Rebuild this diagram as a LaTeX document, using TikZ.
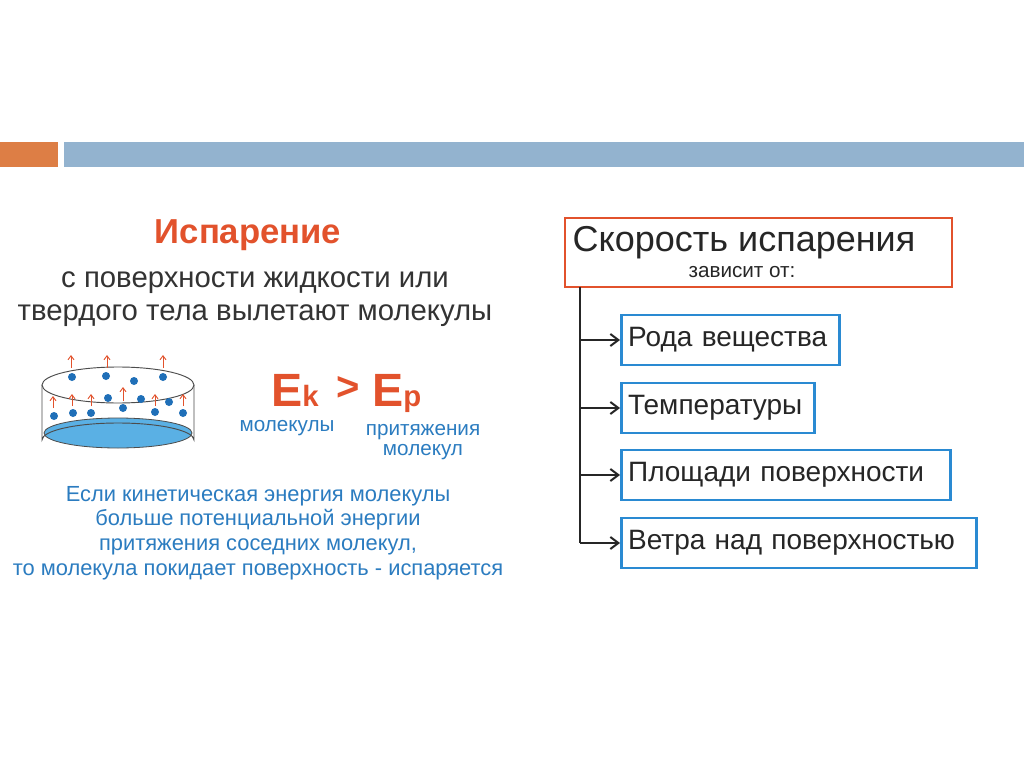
\documentclass[tikz,border=0pt]{standalone}
\usepackage{fontspec}
\setmainfont{Liberation Sans}
\usetikzlibrary{arrows.meta}
\definecolor{obar}{HTML}{DD7E45}
\definecolor{bbar}{HTML}{93B3CF}
\definecolor{ored}{HTML}{E2522C}
\definecolor{btext}{HTML}{2B7CC0}
\definecolor{bbox}{HTML}{2A8AD2}
\definecolor{water}{HTML}{5AB0E4}
\definecolor{dot}{HTML}{1F6FB8}
\begin{document}
\begin{tikzpicture}[x=0.75pt,y=-0.75pt,
  fbox/.style={draw=bbox,line width=2.2pt,minimum height=37.5pt,anchor=west,inner xsep=5pt,align=left,font=\fontsize{21}{24}\selectfont,text=black!85},
  con/.style={line width=1.5pt,-{Straight Barb[length=6pt,width=9pt]}},
  up/.style={draw=ored,line width=0.7pt,-{Straight Barb[length=3pt,width=4.5pt]}},
  mol/.style={fill=dot,draw=none}]
\useasboundingbox (0,0) rectangle (1024,767);
\fill[white] (0,0) rectangle (1024,767);
\fill[obar] (0,142) rectangle (58,167);
\fill[bbar] (64,142) rectangle (1024,167);
\node (t) at (248,235) {\fontsize{26}{28}\selectfont\bfseries\color{ored}Испарение};
\node (l1) at (255,283) {\fontsize{22}{26}\selectfont\color{black!80}с поверхности жидкости или};
\node (l2) at (255,316) {\fontsize{22}{26}\selectfont\color{black!80}твердого тела вылетают молекулы};
% cylinder
\fill[water,draw=black!70,line width=0.6pt] (118,433) ellipse [x radius=74,y radius=15];
\draw[black!70,line width=0.7pt] (42,385) -- (42,440) arc[start angle=180,end angle=360,x radius=76,y radius=17] -- (194,385);
\draw[black!70,line width=0.7pt] (118,385) ellipse [x radius=76,y radius=18];
\foreach \p in {(72,377),(106,376),(134,381),(163,377),(108,398),(141,399),(169,402),(123,408),(54,416),(73,413),(91,413),(155,412),(183,413)}
  \fill[mol] \p circle (4);
\foreach \x/\a/\b in {71/368/355,107/368/355,163/368/355,53/408/396,72/406/394,91/406/394,123/401/387,155/406/394,183/406/394}
  \draw[up] (\x,\a) -- (\x,\b);
% energies
\node[anchor=base west,inner sep=0] (ek) at (271,406) {\fontsize{35}{38}\selectfont\bfseries\color{ored}E\fontsize{22}{24}\selectfont k};
\node[anchor=base,inner sep=0] (gt) at (348,400) {\fontsize{30}{32}\selectfont\bfseries\color{ored}>};
\node[anchor=base west,inner sep=0] (ep) at (372,406) {\fontsize{35}{38}\selectfont\bfseries\color{ored}E\fontsize{22}{24}\selectfont p};
\node (m1) at (287,428) {\fontsize{15.5}{18}\selectfont\color{btext}молекулы};
\node[align=center,font=\fontsize{15.5}{15.5}\selectfont,text=btext] (m2) at (423,442) {притяжения\\молекул};
\node[align=center,font=\fontsize{16.4}{18.4}\selectfont,text=btext] (para) at (258,533) {Если кинетическая энергия молекулы\\больше потенциальной энергии\\притяжения соседних молекул,\\то молекула покидает поверхность - испаряется};
% right side
\draw[ored,line width=1.6pt] (565,218) rectangle (952,287);
\node (sk) at (744,243) {\fontsize{27}{30}\selectfont\color{black!85}Скорость испарения};
\node (zo) at (742,272) {\fontsize{15.5}{17}\selectfont\color{black!85}зависит от:};
\coordinate (top) at (580,287);
\draw[line width=1.5pt,black!85] (top) -- (580,543);
\node[fbox,text width=153.5pt] (b1) at (620,340) {Рода вещества};
\node[fbox,text width=134.75pt] (b2) at (620,408) {Температуры};
\node[fbox,text width=236.75pt] (b3) at (620,475) {Площади поверхности};
\node[fbox,text width=256.25pt] (b4) at (620,543) {Ветра над поверхностью};
\foreach \b/\y in {b1/340,b2/408,b3/475,b4/543}{
  \coordinate (s\b) at (580,\y);
  \draw[con,black!85] (s\b) -- (\b.west);}
\end{tikzpicture}
\end{document}
